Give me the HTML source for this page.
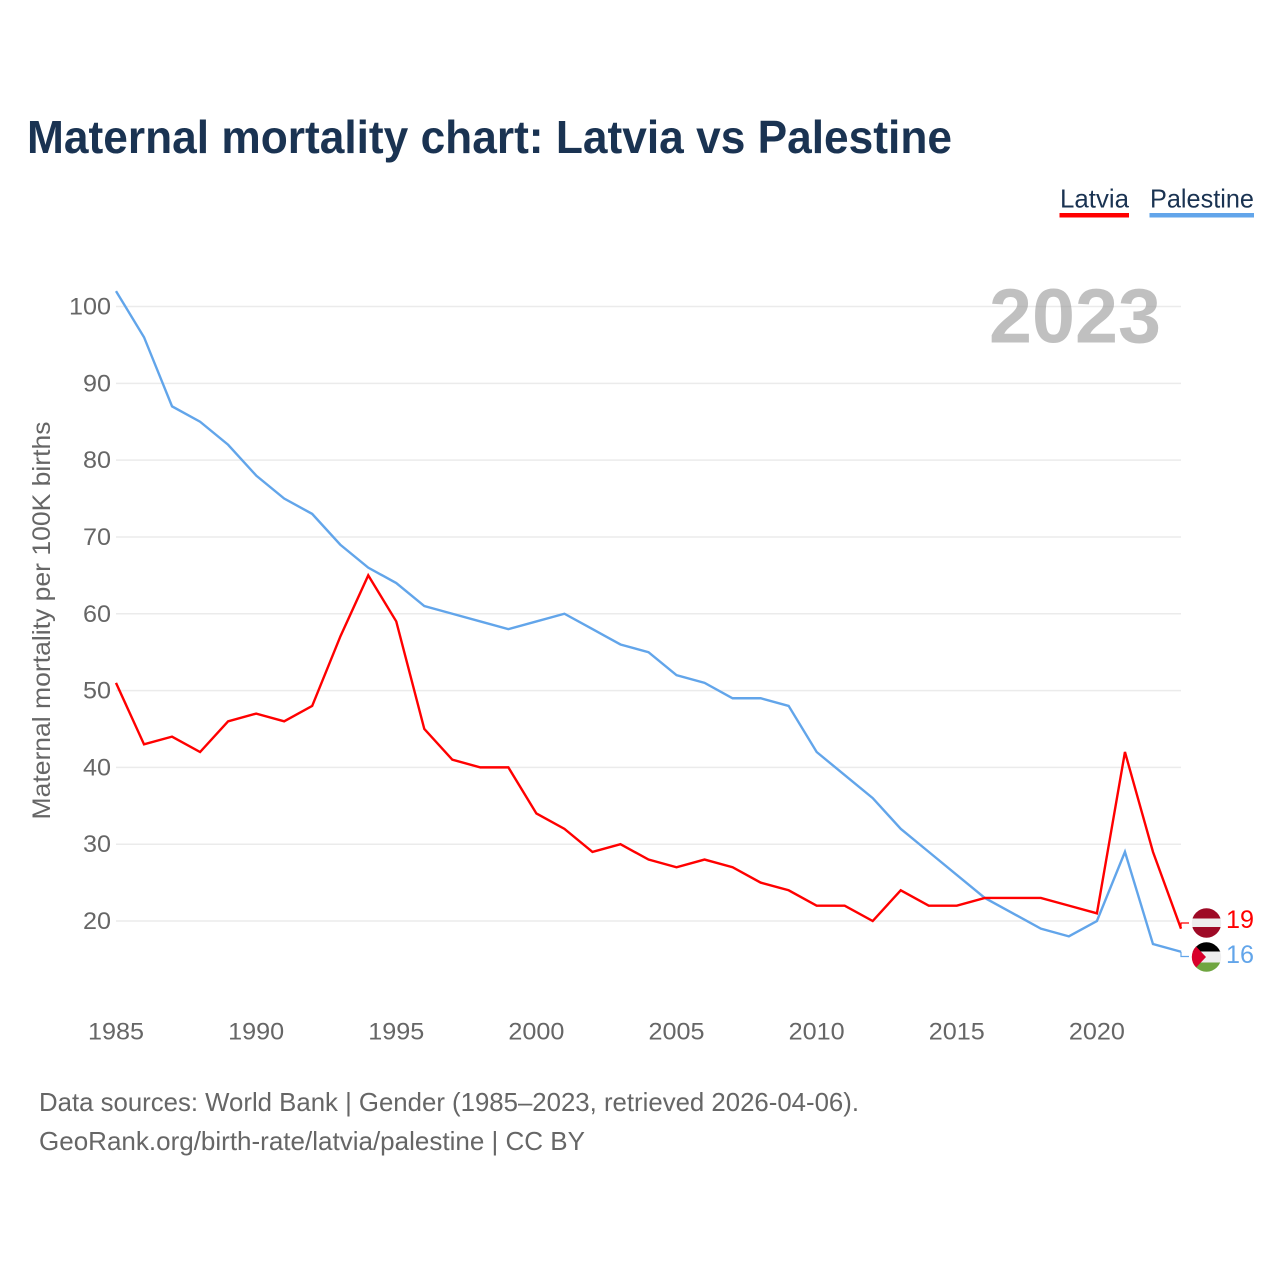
<!DOCTYPE html>
<html lang="en">
<head>
<meta charset="utf-8">
<title>Maternal mortality chart: Latvia vs Palestine</title>
<style>
html,body{margin:0;padding:0;background:#fff;}
svg{display:block;font-family:"Liberation Sans",sans-serif;}
</style>
</head>
<body>
<svg id="chart" width="1280" height="1280" viewBox="0 0 1280 1280" xmlns="http://www.w3.org/2000/svg">
  <defs>
    <clipPath id="clip-lv"><circle cx="1206.5" cy="923" r="14.7"/></clipPath>
    <clipPath id="clip-ps"><circle cx="1206.5" cy="957" r="14.7"/></clipPath>
  </defs>
  <rect width="1280" height="1280" fill="#fff"/>
  <text x="27" y="153" font-size="46" font-weight="700" fill="#1a3352" textLength="925" lengthAdjust="spacingAndGlyphs">Maternal mortality chart: Latvia vs Palestine</text>

  <g>
    <g>
      <text x="1060" y="207.500" font-size="26" fill="#1a3352" textLength="69" lengthAdjust="spacingAndGlyphs">Latvia</text>
      <rect x="1059.500" y="213" width="69.500" height="4.500" fill="#ff0000"/>
    </g>
    <g>
      <text x="1150" y="207.500" font-size="26" fill="#1a3352" textLength="104" lengthAdjust="spacingAndGlyphs">Palestine</text>
      <rect x="1149.500" y="213" width="104.500" height="4.500" fill="#62a5ea"/>
    </g>
  </g>

  <g id="grid"></g>
  <g id="y-ticks"></g>
  <g id="x-ticks"></g>

  <text transform="translate(50,620.500) rotate(-90)" text-anchor="middle" font-size="25" fill="#666666" textLength="398" lengthAdjust="spacingAndGlyphs">Maternal mortality per 100K births</text>

  <text x="1161" y="342.500" text-anchor="end" font-size="77" font-weight="700" fill="#999999" fill-opacity="0.62" textLength="172" lengthAdjust="spacingAndGlyphs">2023</text>

  <g id="series"></g>

  <g clip-path="url(#clip-lv)">
    <rect x="1190" y="906" width="34" height="12.500" fill="#9e0a26"/>
    <rect x="1190" y="918.500" width="34" height="8.500" fill="#eeeeee"/>
    <rect x="1190" y="927" width="34" height="13" fill="#9e0a26"/>
  </g>
  <g clip-path="url(#clip-ps)">
    <rect x="1190" y="940" width="34" height="12" fill="#000000"/>
    <rect x="1190" y="951.500" width="34" height="11" fill="#eeeeee"/>
    <rect x="1190" y="962.500" width="34" height="12" fill="#6fa540"/>
    <polygon points="1190,940 1206,957 1190,974" fill="#d8002b"/>
  </g>
  <text id="end-lv" x="1226" y="928" font-size="25" fill="#ff0000" textLength="28" lengthAdjust="spacingAndGlyphs"></text>
  <text id="end-ps" x="1226" y="963" font-size="25" fill="#62a5ea" textLength="28" lengthAdjust="spacingAndGlyphs"></text>

  <g>
    <text x="39" y="1111" font-size="26" fill="#666666" textLength="820" lengthAdjust="spacingAndGlyphs">Data sources: World Bank | Gender (1985–2023, retrieved 2026-04-06).</text>
    <text x="39" y="1150" font-size="26" fill="#666666" textLength="546" lengthAdjust="spacingAndGlyphs">GeoRank.org/birth-rate/latvia/palestine | CC BY</text>
  </g>
</svg>
<script>
var years = [1985,1986,1987,1988,1989,1990,1991,1992,1993,1994,1995,1996,1997,1998,1999,2000,2001,2002,2003,2004,2005,2006,2007,2008,2009,2010,2011,2012,2013,2014,2015,2016,2017,2018,2019,2020,2021,2022,2023];
var latvia = [51,43,44,42,46,47,46,48,57,65,59,45,41,40,40,34,32,29,30,28,27,28,27,25,24,22,22,20,24,22,22,23,23,23,22,21,42,29,19];
var palestine = [102,96,87,85,82,78,75,73,69,66,64,61,60,59,58,59,60,58,56,55,52,51,49,49,48,42,39,36,32,29,26,23,21,19,18,20,29,17,16];
var yTickValues = [20,30,40,50,60,70,80,90,100];
var xTickValues = [1985,1990,1995,2000,2005,2010,2015,2020];

var NS = 'http://www.w3.org/2000/svg';
function xScale(year){ return 116 + (year - 1985) * (1181 - 116) / (2023 - 1985); }
function yScale(v){ return 921 - (v - 20) * (921 - 306.5) / 80; }

var grid = document.getElementById('grid');
var yTicks = document.getElementById('y-ticks');
yTickValues.forEach(function(v){
  var l = document.createElementNS(NS,'line');
  
  
  l.setAttribute('x1', 116);
  l.setAttribute('x2', 1181);
  l.setAttribute('y1', yScale(v));
  l.setAttribute('y2', yScale(v));
  l.setAttribute('stroke', '#ebebeb');
  l.setAttribute('stroke-width', '1.5');
  grid.appendChild(l);
  var t = document.createElementNS(NS,'text');
  
  
  t.setAttribute('x', 111);
  t.setAttribute('y', yScale(v) + 8);
  t.setAttribute('text-anchor', 'end');
  t.setAttribute('font-size', '24.5');
  t.setAttribute('fill', '#666666');
  t.setAttribute('textLength', String(v).length * 14);
  t.setAttribute('lengthAdjust', 'spacingAndGlyphs');
  t.textContent = v;
  yTicks.appendChild(t);
});

var xTicks = document.getElementById('x-ticks');
xTickValues.forEach(function(y){
  var t = document.createElementNS(NS,'text');
  
  
  t.setAttribute('x', xScale(y));
  t.setAttribute('y', 1039.5);
  t.setAttribute('text-anchor', 'middle');
  t.setAttribute('font-size', '24.5');
  t.setAttribute('fill', '#666666');
  t.setAttribute('textLength', 56);
  t.setAttribute('lengthAdjust', 'spacingAndGlyphs');
  t.textContent = y;
  xTicks.appendChild(t);
});

var seriesGroup = document.getElementById('series');
function linePoints(vals){
  return vals.map(function(v,i){ return xScale(years[i]).toFixed(2) + ',' + yScale(v).toFixed(2); }).join(' ');
}
function endConnector(vals, labelY){
  var last = vals.length - 1;
  var ex = xScale(years[last]);
  return ex.toFixed(2) + ',' + yScale(vals[last]).toFixed(2) + ' ' + ex.toFixed(2) + ',' + labelY + ' ' + (ex + 8) + ',' + labelY;
}

var palLine = document.createElementNS(NS,'polyline');


palLine.setAttribute('points', linePoints(palestine));
palLine.setAttribute('fill', 'none');
palLine.setAttribute('stroke', '#62a5ea');
palLine.setAttribute('stroke-width', '2.4');
seriesGroup.appendChild(palLine);

var palConn = document.createElementNS(NS,'polyline');


palConn.setAttribute('points', endConnector(palestine, 956.5));
palConn.setAttribute('fill', 'none');
palConn.setAttribute('stroke', '#62a5ea');
palConn.setAttribute('stroke-width', '1.2');
seriesGroup.appendChild(palConn);

var lvLine = document.createElementNS(NS,'polyline');


lvLine.setAttribute('points', linePoints(latvia));
lvLine.setAttribute('fill', 'none');
lvLine.setAttribute('stroke', '#ff0000');
lvLine.setAttribute('stroke-width', '2.4');
seriesGroup.appendChild(lvLine);

var lvConn = document.createElementNS(NS,'polyline');


lvConn.setAttribute('points', endConnector(latvia, 923));
lvConn.setAttribute('fill', 'none');
lvConn.setAttribute('stroke', '#ff0000');
lvConn.setAttribute('stroke-width', '1.2');
seriesGroup.appendChild(lvConn);

document.getElementById('end-lv').textContent = latvia[latvia.length - 1];
document.getElementById('end-ps').textContent = palestine[palestine.length - 1];
</script>
</body>
</html>
